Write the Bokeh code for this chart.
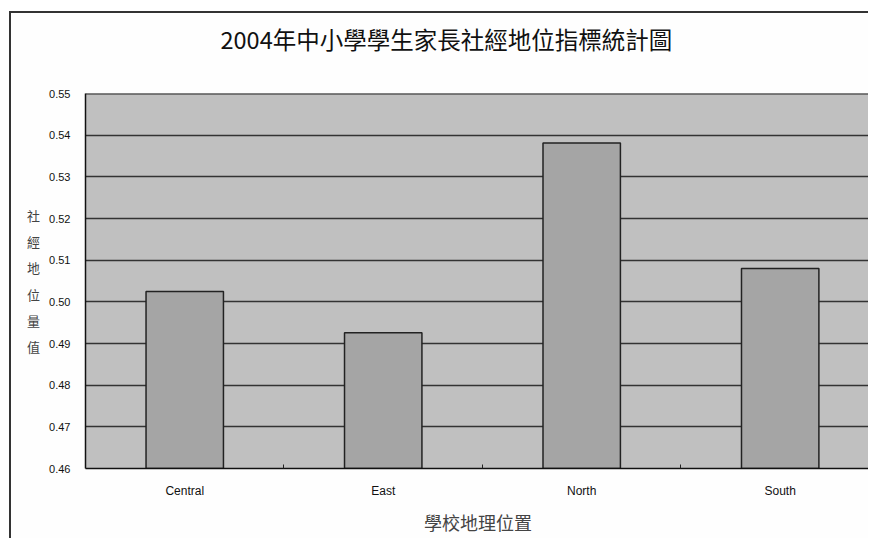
from bokeh.plotting import figure
from bokeh.models import Range1d, FixedTicker, PrintfTickFormatter, Span
from bokeh.embed import file_html
from bokeh.resources import INLINE

# School location regions and their mean socio-economic index (2004)
regions = ["Central", "East", "North", "South"]
ses_index = [0.5025, 0.4926, 0.5381, 0.5080]
y_ticks = [0.46, 0.47, 0.48, 0.49, 0.50, 0.51, 0.52, 0.53, 0.54, 0.55]

title_text = "2004年中小學學生家長社經地位指標統計圖"
x_title = "學校地理位置"
y_title = "社經地位量值"

x_pos = list(range(len(regions)))
boundaries = [i + 0.5 for i in x_pos[:-1]]

cjk = "Noto Sans CJK TC"

p = figure(
    width=859, height=527,
    x_range=Range1d(-0.5, 3.455),
    y_range=Range1d(y_ticks[0], y_ticks[-1]),
    output_backend="svg", toolbar_location=None,
    min_border_left=74, min_border_right=0,
    min_border_top=80, min_border_bottom=72,
    background_fill_color="#c0c0c0",
    border_fill_color="#fefefe",
    outline_line_color=None,
)
# chart-area frame on the page
p.styles = {
    "margin-left": "9px", "margin-top": "11px",
    "border-left": "2px solid #333333", "border-top": "2px solid #333333",
}

p.title.text = title_text
p.title.align = "left"
p.title.offset = 135
p.title.standoff = 0
p.title.padding = dict(top=0, right=0, bottom=38, left=0)
p.title.text_font = cjk
p.title.text_font_size = "23.5px"
p.title.text_font_style = "normal"
p.title.text_color = "#111111"

p.vbar(x=x_pos, top=ses_index, bottom=y_ticks[0], width=0.39,
       fill_color="#a5a5a5", line_color="#222222", line_width=1.5)

# top edge of the plotting area
p.add_layout(Span(location=y_ticks[-1], dimension="width",
                  line_color="#222222", line_width=2))

# y axis
p.yaxis.ticker = FixedTicker(ticks=y_ticks)
p.yaxis.formatter = PrintfTickFormatter(format="%.2f")
p.yaxis.major_tick_in = 0
p.yaxis.major_tick_out = 0
p.yaxis.minor_tick_line_color = None
p.yaxis.axis_line_color = "#111111"
p.yaxis.axis_line_width = 1.5
p.yaxis.major_label_text_font = "Liberation Sans"
p.yaxis.major_label_text_font_size = "11px"
p.yaxis.major_label_text_color = "#111111"
p.yaxis.major_label_standoff = 15
p.yaxis.axis_label = "\n".join(y_title)
p.yaxis.axis_label_orientation = "horizontal"
p.yaxis.axis_label_text_font = cjk
p.yaxis.axis_label_text_font_size = "13px"
p.yaxis.axis_label_text_font_style = "normal"
p.yaxis.axis_label_text_line_height = 1.37
p.yaxis.axis_label_standoff = 6

# x axis: labels at bar centres, short inward ticks between categories
p.xaxis.ticker = FixedTicker(ticks=x_pos, minor_ticks=boundaries)
p.xaxis.major_label_overrides = {i: name for i, name in zip(x_pos, regions)}
p.xaxis.major_tick_in = 0
p.xaxis.major_tick_out = 0
p.xaxis.minor_tick_in = 4
p.xaxis.minor_tick_out = 0
p.xaxis.minor_tick_line_color = "#222222"
p.xaxis.axis_line_color = "#111111"
p.xaxis.axis_line_width = 1.5
p.xaxis.major_label_text_font = "Liberation Sans"
p.xaxis.major_label_text_font_size = "12px"
p.xaxis.major_label_text_color = "#111111"
p.xaxis.major_label_standoff = 15
p.xaxis.axis_label = x_title
p.xaxis.axis_label_text_font = cjk
p.xaxis.axis_label_text_font_size = "18px"
p.xaxis.axis_label_text_font_style = "normal"
p.xaxis.axis_label_standoff = 8

# grid
p.xgrid.grid_line_color = None
p.ygrid.ticker = FixedTicker(ticks=y_ticks)
p.ygrid.grid_line_color = "#333333"
p.ygrid.grid_line_width = 1.5

open("out.html", "w").write(file_html(p, INLINE))
